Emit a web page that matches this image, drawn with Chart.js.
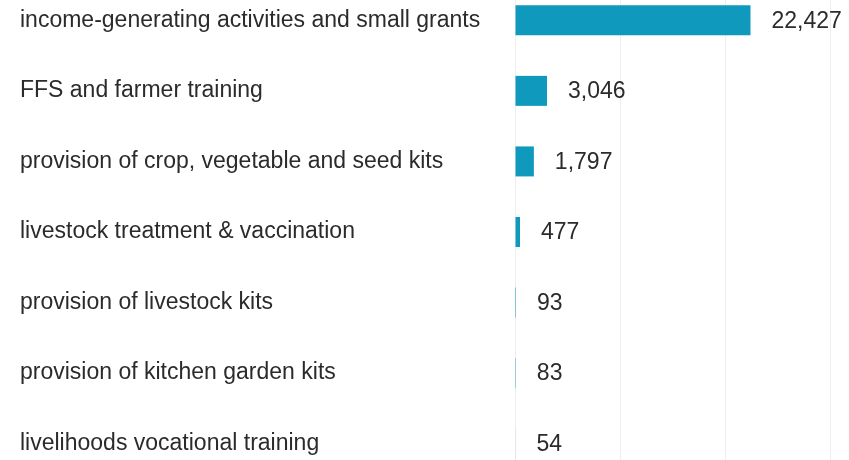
<!DOCTYPE html>
<html>
<head>
<meta charset="utf-8">
<script src="https://cdn.jsdelivr.net/npm/chart.js@4"></script>
<style>
  html, body { margin: 0; padding: 0; background: #fff; }
  #wrap { position: relative; width: 849px; height: 460px; overflow: hidden; }
  #box { position: absolute; left: 0; top: -15px; width: 849px; height: 494px; }
</style>
</head>
<body>
<div id="wrap"><div id="box"><canvas id="chart1"></canvas></div></div>
<script>
// categories and values
const categories = [
  'income-generating activities and small grants',
  'FFS and farmer training',
  'provision of crop, vegetable and seed kits',
  'livestock treatment & vaccination',
  'provision of livestock kits',
  'provision of kitchen garden kits',
  'livelihoods vocational training',
];
const beneficiaries = [22427, 3046, 1797, 477, 93, 83, 54];
const xTicks = [0, 10000, 20000, 30000];

const barColor = '#0f99bc';
const textColor = '#2b2b2b';
const fontFamily = '"Liberation Sans", Arial, sans-serif';

// value labels to the right of each bar
const valueLabels = {
  id: 'valueLabels',
  afterDatasetsDraw(chart) {
    const ctx = chart.ctx;
    const meta = chart.getDatasetMeta(0);
    ctx.save();
    ctx.font = '23px ' + fontFamily;
    ctx.fillStyle = textColor;
    ctx.textAlign = 'left';
    ctx.textBaseline = 'middle';
    meta.data.forEach((bar, i) => {
      ctx.fillText(beneficiaries[i].toLocaleString('en-US'), bar.x + 21, bar.y + 1);
    });
    ctx.restore();
  },
};

var ctx = document.getElementById('chart1').getContext('2d');
new Chart(ctx, {
  type: 'bar',
  data: {
    labels: categories,
    datasets: [{
      data: beneficiaries,
      backgroundColor: barColor,
      borderWidth: 0,
      categoryPercentage: 1,
      barPercentage: 0.425,
    }],
  },
  options: {
    indexAxis: 'y',
    responsive: true,
    maintainAspectRatio: false,
    animation: false,
    layout: { padding: { left: 20, right: 19, top: 0, bottom: 0 } },
    plugins: {
      legend: { display: false },
      tooltip: { enabled: false },
    },
    scales: {
      x: {
        min: 0,
        max: 30000,
        afterBuildTicks(scale) {
          scale.ticks = xTicks.map(v => ({ value: v }));
        },
        afterFit(scale) {
          scale.height = 0;
          scale.paddingLeft = 0;
          scale.paddingRight = 0;
        },
        grid: { color: '#eeeeee', drawTicks: false, lineWidth: 1 },
        border: { display: false },
        ticks: { display: false },
      },
      y: {
        afterFit(scale) {
          scale.width = 495;
          scale.paddingTop = 0;
          scale.paddingBottom = 0;
        },
        grid: { display: false },
        border: { display: false },
        ticks: {
          crossAlign: 'far',
          color: textColor,
          font: { family: fontFamily, size: 23 },
        },
      },
    },
  },
  plugins: [valueLabels],
});
</script>
</body>
</html>
